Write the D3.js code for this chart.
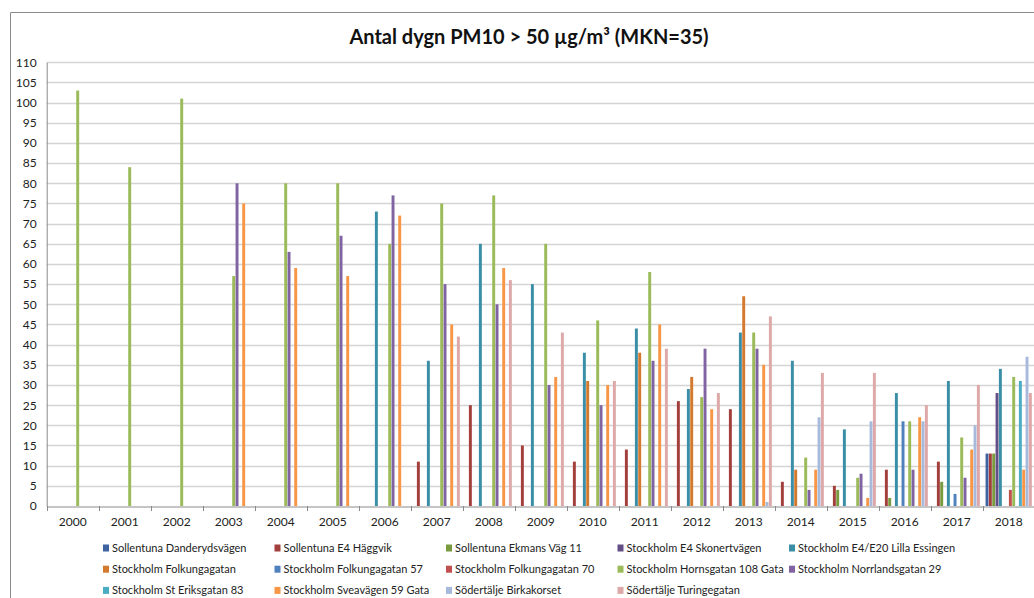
<!DOCTYPE html>
<html>
<head>
<meta charset="utf-8">
<script src="https://cdn.jsdelivr.net/npm/d3@7"></script>
<style>
  body { margin: 0; background: #fff; }
  svg { display: block; font-family: Lato, "Open Sans", sans-serif; }
</style>
</head>
<body>
<div id="chart"></div>
<script>
// year categories
var years = ["2000","2001","2002","2003","2004","2005","2006","2007","2008","2009",
             "2010","2011","2012","2013","2014","2015","2016","2017","2018"];

var seriesNames = [
  "Sollentuna Danderydsvägen", "Sollentuna E4 Häggvik", "Sollentuna Ekmans Väg 11",
  "Stockholm E4 Skonertvägen", "Stockholm E4/E20 Lilla Essingen",
  "Stockholm Folkungagatan", "Stockholm Folkungagatan 57", "Stockholm Folkungagatan 70",
  "Stockholm Hornsgatan 108 Gata", "Stockholm Norrlandsgatan 29",
  "Stockholm St Eriksgatan 83", "Stockholm Sveavägen 59 Gata",
  "Södertälje Birkakorset", "Södertälje Turingegatan"
];

// days above 50 µg/m3, one value per year (null = no measurement)
var danderydsvagen = [null,null,null,null,null,null,null,null,null,null,null,null,null,null,null,null,null,null,13];
var haggvik        = [null,null,null,null,null,null,null,11,25,15,11,14,26,24,6,5,9,11,13];
var ekmansVag      = [null,null,null,null,null,null,null,null,null,null,null,null,null,null,null,4,2,6,13];
var skonertvagen   = [null,null,null,null,null,null,null,null,null,null,null,null,null,null,null,null,null,null,28];
var lillaEssingen  = [null,null,null,null,null,null,73,36,65,55,38,44,29,43,36,19,28,31,34];
var folkungagatan  = [null,null,null,null,null,null,null,null,null,null,31,38,32,52,9,null,null,null,null];
var folkunga57     = [null,null,null,null,null,null,null,null,null,null,null,null,null,null,null,null,21,3,null];
var folkunga70     = [null,null,null,null,null,null,null,null,null,null,null,null,null,null,null,null,null,null,4];
var hornsgatan     = [103,84,101,57,80,80,65,75,77,65,46,58,27,43,12,7,21,17,32];
var norrlandsgatan = [null,null,null,80,63,67,77,55,50,30,25,36,39,39,4,8,9,7,null];
var stEriksgatan   = [null,null,null,null,null,null,null,null,null,null,null,null,null,null,null,null,null,null,31];
var sveavagen      = [null,null,null,75,59,57,72,45,59,32,30,45,24,35,9,2,22,14,9];
var birkakorset    = [null,null,null,null,null,null,null,null,null,null,null,null,null,1,22,21,21,20,37];
var turingegatan   = [null,null,null,null,null,null,null,42,56,43,31,39,28,47,33,33,25,30,28];

var seriesValues = [danderydsvagen, haggvik, ekmansVag, skonertvagen, lillaEssingen,
  folkungagatan, folkunga57, folkunga70, hornsgatan, norrlandsgatan,
  stEriksgatan, sveavagen, birkakorset, turingegatan];

var yTicks = d3.range(0, 111, 5);

var colors = ["#3f63a0","#a23f3c","#7a9a3e","#644e86","#3a8ea6","#d47a2e",
              "#4f81bd","#c0504d","#9bbb59","#8064a2","#4bacc6","#f79646",
              "#a7badb","#dda8a7"];

var chartW = 1034, chartH = 598;
var plotLeft = 46.7, plotBottom = 506, plotTop = 62.3;

var svg = d3.select("#chart").append("svg")
  .attr("width", chartW)
  .attr("height", chartH);

// chart frame (runs off the right and bottom edge)
svg.append("path")
  .attr("d", "M10.5," + chartH + "V12.5H" + chartW)
  .attr("fill", "none")
  .attr("stroke", "#8a8a8a");

svg.append("text")
  .attr("x", 529)
  .attr("y", 44)
  .attr("text-anchor", "middle")
  .style("font-size", "20px")
  .style("font-weight", "bold")
  .style("fill", "#111")
  .text("Antal dygn PM10 > 50 µg/m³ (MKN=35)");

var x0 = d3.scaleBand().domain(years).range([plotLeft, plotLeft + 52 * years.length]).padding(0);
var x1 = d3.scaleBand().domain(d3.range(seriesNames.length))
  .range([0, x0.bandwidth()]).paddingInner(0).paddingOuter(0.8);
var y = d3.scaleLinear().domain([0, 110]).range([plotBottom, plotTop]);

// gridlines
svg.append("g").selectAll("line")
  .data(yTicks.filter(function(d) { return d > 0; }))
  .enter().append("line")
  .attr("x1", plotLeft).attr("x2", chartW)
  .attr("y1", function(d) { return Math.round(y(d)) + 0.5; })
  .attr("y2", function(d) { return Math.round(y(d)) + 0.5; })
  .attr("stroke", "#d4d4d4")
  .attr("stroke-width", 1.3);

// y axis
var yAxis = svg.append("g")
  .attr("transform", "translate(" + plotLeft + ",0)")
  .call(d3.axisLeft(y).tickValues(yTicks).tickSize(0).tickPadding(10));
yAxis.select(".domain").attr("stroke", "#8a8a8a");
yAxis.selectAll("text").style("font-size", "12px").style("fill", "#222")
  .style("font-family", "Lato, sans-serif");

// bars
var groups = svg.append("g").selectAll("g")
  .data(years)
  .enter().append("g")
  .attr("transform", function(d) { return "translate(" + x0(d) + ",0)"; });

groups.selectAll("rect")
  .data(function(d, i) {
    return seriesValues.map(function(s, k) { return { k: k, v: s[i] }; })
      .filter(function(e) { return e.v != null; });
  })
  .enter().append("rect")
  .attr("x", function(d) { return x1(d.k) + 0.2; })
  .attr("width", x1.bandwidth() - 0.4)
  .attr("y", function(d) { return y(d.v); })
  .attr("height", function(d) { return plotBottom - y(d.v); })
  .attr("fill", function(d) { return colors[d.k]; });

// x axis
var xAxis = svg.append("g")
  .attr("transform", "translate(0," + (plotBottom + 0.5) + ")")
  .call(d3.axisBottom(x0).tickSize(0).tickPadding(11));
xAxis.select(".domain").attr("stroke", "#8a8a8a");
xAxis.selectAll("text").style("font-size", "12px").style("fill", "#222")
  .style("font-family", "Lato, sans-serif");

svg.append("g").selectAll("line")
  .data(years.concat(["end"]))
  .enter().append("line")
  .attr("x1", function(d, i) { return Math.round(plotLeft + 52 * i) + 0.5; })
  .attr("x2", function(d, i) { return Math.round(plotLeft + 52 * i) + 0.5; })
  .attr("y1", plotBottom).attr("y2", plotBottom + 5)
  .attr("stroke", "#8a8a8a");

// legend, 5 per row
var legend = svg.append("g").selectAll("g")
  .data(seriesNames)
  .enter().append("g")
  .attr("transform", function(d, i) {
    return "translate(" + (103 + 171.5 * (i % 5)) + "," + (548 + 21.2 * Math.floor(i / 5)) + ")";
  });

legend.append("rect")
  .attr("x", 0).attr("y", -3.5)
  .attr("width", 6).attr("height", 7)
  .attr("fill", function(d, i) { return colors[i]; });

legend.append("text")
  .attr("x", 9)
  .attr("y", 4)
  .style("font-size", "11px")
  .style("fill", "#222")
  .text(function(d) { return d; });
</script>
</body>
</html>
